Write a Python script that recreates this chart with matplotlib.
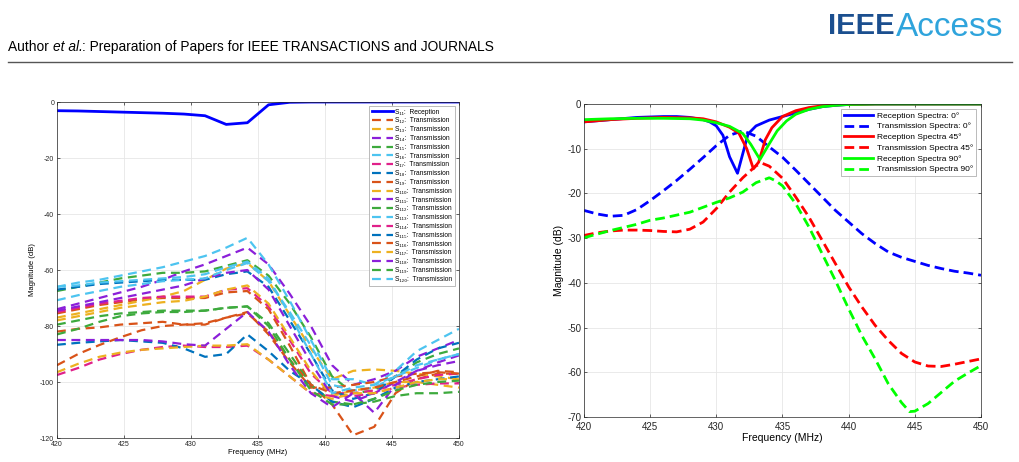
import matplotlib
matplotlib.use("Agg")
import matplotlib.pyplot as plt

plt.rcParams['font.family'] = ['Liberation Sans', 'DejaVu Sans']
plt.rcParams['axes.unicode_minus'] = False

################################
# LEFT PANEL DATA
################################

freq_left = [420.00, 421.58, 423.16, 424.74, 426.32, 427.89, 429.47, 431.05, 432.63, 434.21,
             435.79, 437.37, 438.95, 440.53, 442.11, 443.68, 445.26, 446.84, 448.42, 450.00]

s11 = [-3.1, -3.2, -3.4, -3.6, -3.8, -4.0, -4.3, -4.9, -8.0, -7.4,
       -1.0, -0.1, 0, 0, 0, 0, 0, 0, 0, 0]

trans_labels = ["12", "13", "14", "15", "16", "17", "18", "19", "110", "111",
                "112", "113", "114", "115", "116", "117", "118", "119", "120"]

s12 = [-75.5, -74, -72.5, -71.5, -70.5, -70, -70, -70, -68, -67.5,
       -74, -87, -101, -108, -119, -116, -104, -99, -97, -97]
s13 = [-77, -75.5, -74, -72.5, -71, -69.5, -67.5, -63.5, -59.5, -57.5,
       -64, -76, -88, -99, -96, -95.5, -96, -97, -98, -99]
s14 = [-74, -72, -70, -68, -66, -63.5, -60.5, -58, -55, -52,
       -58, -68.5, -80, -94, -101, -99, -96, -91, -88, -85]
s15 = [-67.5, -66, -64.5, -63, -62, -61, -61, -60.5, -58.5, -56.5,
       -62, -72, -84, -98, -104, -103, -98, -93, -90, -88]
s16 = [-66, -64.5, -63.5, -62, -60.5, -59, -57, -55, -52, -48.5,
       -58, -71, -85, -99, -99, -101, -96, -89, -85, -81]
s17 = [-75, -73.5, -72, -71, -70, -69.5, -69.5, -69.5, -67, -66.5,
       -73, -85, -97, -104, -104, -103, -101, -99, -97.5, -97]
s18 = [-67, -66, -65, -64.5, -64, -63.5, -63.5, -63.5, -61.5, -60.5,
       -66, -78, -90, -103, -106, -104, -98, -92, -88, -86]
s19 = [-82, -81, -80.5, -79.5, -79, -78.5, -79.5, -79.5, -77, -75,
       -83, -93, -102, -102, -101, -100, -98, -97, -96.5, -97]
s110 = [-78, -76.5, -75, -73.5, -72.5, -71.5, -71, -69.5, -67, -65.5,
        -72, -84, -96, -105, -103, -102, -100, -100, -101, -102]
s111 = [-74.5, -73, -71.5, -70, -68.5, -67, -65.5, -63, -61, -60,
        -67, -80, -93, -105, -107, -104, -100, -96, -93, -90.5]
s112 = [-79.5, -78, -76.5, -75.5, -75, -74.5, -74.5, -74.5, -73.5, -73,
        -79, -90, -101, -107, -108, -107, -105, -104, -104, -103.5]
s113 = [-70.8, -69, -67.5, -66, -65, -64, -63.5, -63, -60, -57.5,
        -64, -75, -87, -101, -103, -102, -98, -94, -92, -90]
s114 = [-97.5, -95, -92, -90, -88.5, -87.5, -87, -87.5, -87.5, -87,
        -92, -98, -104, -105, -105, -104, -102, -101, -100.5, -100.5]
s115 = [-86.7, -86, -85.5, -85, -85.5, -86, -88, -91, -90, -83,
        -89, -96, -101, -107, -109, -106, -102, -100, -99, -98]
s116 = [-94, -90, -86.8, -84, -81.5, -80, -79.5, -79, -77, -75.5,
        -82, -92, -101, -104, -103, -102, -100, -98, -96, -96.5]
s117 = [-96.5, -93.5, -91, -89.5, -88.5, -88, -87.5, -87, -87, -86.5,
        -92, -98, -104, -106, -104, -104, -102, -100, -99, -99]
s118 = [-85, -85, -85, -85, -85, -85.5, -86.5, -87, -81, -75,
        -82, -94, -104, -109, -104, -111, -101, -96, -94, -92.5]
s119 = [-83, -81, -78.5, -76.5, -75.5, -75, -75, -74.5, -73.5, -73,
        -80, -92, -103, -108, -108, -106, -103, -101, -100, -99.5]
s120 = [-66, -65.5, -64.5, -64, -63.5, -63, -62.5, -61.5, -59, -57,
        -63, -76, -90, -104, -102, -101, -98, -95, -92, -90]

trans_series = [s12, s13, s14, s15, s16, s17, s18, s19, s110, s111,
                s112, s113, s114, s115, s116, s117, s118, s119, s120]

trans_colors = ["#D95319", "#EDB120", "#8B1FD9", "#3DAA3D", "#4DC4F0", "#E0218A", "#0072BD"]

################################
# RIGHT PANEL DATA
################################

rec0_f = [420, 422, 424, 426, 427, 428, 429, 429.5, 430, 430.5, 431, 431.6, 432, 432.4, 433,
          434, 435, 436, 437, 438, 439, 440, 442, 446, 450]
rec0 = [-4.0, -3.5, -3.0, -2.8, -2.8, -3.0, -3.5, -4.0, -4.9, -7.0, -11.8, -15.5, -11.1, -6.7, -4.9,
        -3.6, -2.8, -2.0, -1.2, -0.6, -0.3, -0.1, 0, 0, 0]

trans0_f = [420, 421, 422, 423, 424, 425, 426, 427, 428, 429, 430, 431, 432, 433, 434, 435,
            436, 437, 438, 439, 440, 441, 442, 443, 444, 445, 446, 447, 448, 449, 450]
trans0 = [-23.8, -24.6, -25.1, -24.9, -23.6, -21.6, -19.4, -17.1, -14.6, -12.0, -9.3, -7.0, -6.0, -7.2,
          -9.6, -11.9, -14.8, -17.8, -20.8, -23.8, -26.4, -29.0, -31.2, -33.1, -34.3, -35.2, -36.1,
          -36.8, -37.4, -37.8, -38.3]

rec45_f = [420, 422, 424, 426, 428, 429, 430, 431, 431.7, 432.3, 432.8, 433.2, 433.7, 434.2,
           435, 436, 437, 438, 439, 440, 442, 446, 450]
rec45 = [-4.0, -3.5, -3.2, -3.0, -3.1, -3.3, -4.0, -5.2, -6.5, -10.0, -14.5, -13.0, -8.0, -5.3,
         -2.8, -1.5, -0.8, -0.4, -0.2, -0.1, 0, 0, 0]

trans45_f = [420, 421, 422, 423, 424, 425, 426, 427, 428, 429, 430, 431, 432, 433, 433.5, 434,
             435, 436, 437, 438, 439, 440, 441, 442, 443, 444, 445, 446, 447, 448, 449, 450]
trans45 = [-29.4, -28.8, -28.4, -28.2, -28.2, -28.3, -28.5, -28.6, -28.0, -26.4, -23.4, -19.7,
           -16.5, -13.8, -13.3, -13.9, -16.6, -20.8, -25.3, -30.5, -35.7, -40.9, -45.4, -49.5,
           -52.9, -55.8, -57.7, -58.6, -58.7, -58.2, -57.6, -57.0]

rec90_f = [420, 422, 424, 426, 428, 429, 430, 431, 432, 432.6, 433.3, 434, 434.6, 435.3,
           436, 437, 438, 439, 440, 442, 446, 450]
rec90 = [-3.5, -3.3, -3.2, -3.2, -3.3, -3.6, -4.2, -5.0, -6.6, -9.0, -12.4, -8.9, -6.0, -3.8,
         -2.3, -1.2, -0.6, -0.3, -0.1, 0, 0, 0]

trans90_f = [420, 422, 424, 425, 426, 428, 430, 431, 432, 433, 434, 434.5, 435, 436, 437, 438,
             439, 440, 441, 442, 443, 444, 444.6, 445, 446, 447, 448, 449, 450]
trans90 = [-29.9, -28.3, -26.9, -26.0, -25.5, -24.2, -22.0, -21.0, -19.7, -17.6, -16.5, -17.2,
           -18.3, -22.3, -27.5, -33.5, -39.5, -45.8, -51.8, -57.0, -62.6, -66.8, -68.8, -68.7,
           -67.0, -64.5, -62.0, -60.2, -58.5]

################################
# FIGURE
################################

fig = plt.figure(figsize=(10.19, 4.62), dpi=100)

# page header
fig.text(0.8125, 0.975, "IEEE", fontsize=21, fontweight="bold", color="#1B4F8F",
         ha="left", va="top")
fig.text(0.879, 0.975, "Access", fontsize=24, color="#2FA4DC", ha="left", va="top")

renderer = fig.canvas.get_renderer()
x0 = 8 / 1019
y0 = 1 - 47 / 462
t1 = fig.text(x0, y0, "Author ", fontsize=9.9, va="center", ha="left")
bb = t1.get_window_extent(renderer)
t2 = fig.text(bb.x1 / 1019, y0, "et al.", fontsize=9.9, style="italic", va="center", ha="left")
bb = t2.get_window_extent(renderer)
fig.text(bb.x1 / 1019, y0, ": Preparation of Papers for IEEE TRANSACTIONS and JOURNALS",
         fontsize=9.9, va="center", ha="left")

fig.add_artist(plt.Line2D([8 / 1019, 1012 / 1019], [1 - 62 / 462, 1 - 62 / 462],
                          color="#555555", linewidth=1.0))

grid_color = "#E6E6E6"
sub_digits = str.maketrans("0123456789", "₀₁₂₃₄₅₆₇₈₉")

################################
# LEFT AXES
################################

ax1 = fig.add_axes([0.0559, 0.0519, 0.3945, 0.7273])

ax1.plot(freq_left, s11, color="#0000FF", linewidth=2.0,
         label="S" + "11".translate(sub_digits) + ":  Reception")

for i, (vals, lab) in enumerate(zip(trans_series, trans_labels)):
    ax1.plot(freq_left, vals, color=trans_colors[i % 7], linestyle=(0, (4, 2.5)),
             linewidth=1.6, label="S" + lab.translate(sub_digits) + ":  Transmission")

ax1.set_xlim(420, 450)
ax1.set_ylim(-120, 0)
ax1.set_xticks([420, 425, 430, 435, 440, 445, 450])
ax1.set_yticks([-120, -100, -80, -60, -40, -20, 0])
ax1.grid(True, color=grid_color, linewidth=0.6)
ax1.set_axisbelow(True)
ax1.tick_params(direction="in", top=True, right=True, labelsize=5, length=2,
                width=0.5, colors="#262626", pad=2)
for sp in ax1.spines.values():
    sp.set_color("#262626")
    sp.set_linewidth(0.5)
ax1.set_xlabel("Frequency (MHz)", fontsize=5.5, labelpad=1)
ax1.set_ylabel("Magnitude (dB)", fontsize=5.5, labelpad=3)

leg1 = ax1.legend(loc="upper right", fontsize=4.8, handlelength=3.2, labelspacing=0.27,
                  borderpad=0.4, handletextpad=0.3, fancybox=False, framealpha=1,
                  edgecolor="#A0A0A0", borderaxespad=0.6)
leg1.get_frame().set_linewidth(0.5)

################################
# RIGHT AXES
################################

ax2 = fig.add_axes([0.5731, 0.0974, 0.3896, 0.6775])

ax2.plot(rec0_f, rec0, color="#0000FF", linewidth=2.0, label="Reception Spectra: 0°")
ax2.plot(trans0_f, trans0, color="#0000FF", linewidth=2.0, linestyle=(0, (3.5, 1.8)),
         label="Transmission Spectra: 0°")
ax2.plot(rec45_f, rec45, color="#FF0000", linewidth=2.0, label="Reception Spectra 45°")
ax2.plot(trans45_f, trans45, color="#FF0000", linewidth=2.0, linestyle=(0, (3.5, 1.8)),
         label="Transmission Spectra 45°")
ax2.plot(rec90_f, rec90, color="#00FF00", linewidth=2.0, label="Reception Spectra 90°")
ax2.plot(trans90_f, trans90, color="#00FF00", linewidth=2.0, linestyle=(0, (3.5, 1.8)),
         label="Transmission Spectra 90°")

ax2.set_xlim(420, 450)
ax2.set_ylim(-70, 0)
ax2.set_xticks([420, 425, 430, 435, 440, 445, 450])
ax2.set_yticks([-70, -60, -50, -40, -30, -20, -10, 0])
ax2.grid(True, color=grid_color, linewidth=0.6)
ax2.set_axisbelow(True)
ax2.tick_params(direction="in", top=True, right=True, labelsize=7, length=2.5,
                width=0.5, colors="#262626", pad=2)
ax2.tick_params(axis="x", pad=3.5)
for sp in ax2.spines.values():
    sp.set_color("#262626")
    sp.set_linewidth(0.5)
ax2.set_xlabel("Frequency (MHz)", fontsize=7.5, labelpad=1)
ax2.set_ylabel("Magnitude (dB)", fontsize=7.5, labelpad=2)

leg2 = ax2.legend(loc="upper right", fontsize=6, handlelength=3.4, labelspacing=0.35,
                  borderpad=0.35, handletextpad=0.5, fancybox=False, framealpha=1,
                  edgecolor="#A0A0A0", borderaxespad=0.6)
leg2.get_frame().set_linewidth(0.5)

fig.savefig("out.png", dpi=100)
